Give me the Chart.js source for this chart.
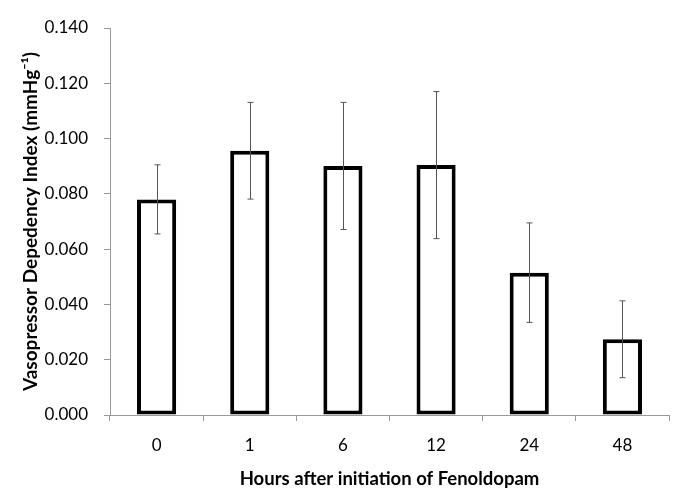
<!DOCTYPE html>
<html>
<head>
<meta charset="utf-8">
<script src="https://cdn.jsdelivr.net/npm/chart.js@4"></script>
<style>
  body { margin: 0; background: #fff; }
  canvas { display: block; }
</style>
</head>
<body>
<canvas id="myChart" width="685" height="504"></canvas>
<script>
const hours = ['0', '1', '6', '12', '24', '48'];
const vdiMean = [0.078, 0.0956, 0.0901, 0.0904, 0.0515, 0.0274];
const vdiErr = [0.0125, 0.0175, 0.023, 0.0266, 0.018, 0.0139];
const yTicks = [0, 0.02, 0.04, 0.06, 0.08, 0.1, 0.12, 0.14];

// draws the vertical error bars with little caps
const errorBars = {
  id: 'errorBars',
  afterDatasetsDraw(chart) {
    const ctx = chart.ctx;
    const meta = chart.getDatasetMeta(0);
    const y = chart.scales.y;
    ctx.save();
    ctx.strokeStyle = '#555';
    ctx.lineWidth = 1;
    meta.data.forEach((bar, i) => {
      const x = Math.round(bar.x) + 0.5;
      const top = y.getPixelForValue(vdiMean[i] + vdiErr[i]);
      const bot = y.getPixelForValue(vdiMean[i] - vdiErr[i]);
      ctx.beginPath();
      ctx.moveTo(x, top); ctx.lineTo(x, bot);
      ctx.moveTo(x - 3, top); ctx.lineTo(x + 3, top);
      ctx.moveTo(x - 3, bot); ctx.lineTo(x + 3, bot);
      ctx.stroke();
    });
    ctx.restore();
  }
};

const ctx = document.getElementById('myChart');

let myChart = new Chart(ctx, {
  type: 'bar',
  data: {
    labels: hours,
    datasets: [{
      label: 'VDI',
      data: vdiMean,
      backgroundColor: '#ffffff',
      borderColor: '#000000',
      borderWidth: 4,
      borderSkipped: false,
      barPercentage: 0.42,
      categoryPercentage: 1
    }]
  },
  options: {
    responsive: false,
    animation: false,
    layout: { padding: { top: 28, right: 16, left: 0, bottom: 0 } },
    plugins: {
      legend: { display: false },
      tooltip: { enabled: false }
    },
    scales: {
      x: {
        grid: { display: true, drawOnChartArea: false, offset: true, color: '#999', tickLength: 6 },
        border: { color: '#999' },
        ticks: { color: '#000', font: { family: 'Lato', size: 17 }, padding: 14 },
        title: {
          display: true,
          text: 'Hours after initiation of Fenoldopam',
          color: '#000',
          font: { family: 'Lato', size: 18.5, weight: 'bold' },
          padding: { top: 0, bottom: 14 }
        },
        afterFit: (scale) => { scale.height = 89; }
      },
      y: {
        min: 0,
        max: 0.14,
        afterBuildTicks: (scale) => { scale.ticks = yTicks.map(v => ({ value: v })); },
        grid: { display: true, drawOnChartArea: false, color: '#999', tickLength: 6 },
        border: { color: '#999' },
        ticks: {
          color: '#000',
          font: { family: 'Lato', size: 17 },
          padding: 16,
          callback: (v) => v.toFixed(3)
        },
        title: {
          display: true,
          text: 'Vasopressor Depedency Index (mmHg\u207B\u00B9)',
          color: '#000',
          font: { family: 'Lato', size: 19, weight: 'bold' },
          padding: { top: 19, bottom: 0 }
        },
        afterFit: (scale) => { scale.width = 110; }
      }
    }
  },
  plugins: [errorBars]
});
</script>
</body>
</html>
